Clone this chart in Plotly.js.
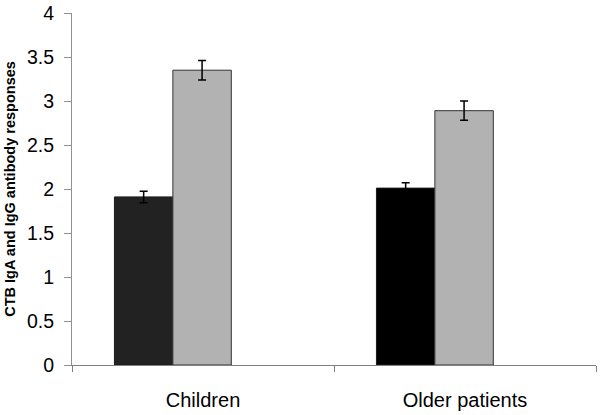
<!DOCTYPE html>
<html>
<head>
<meta charset="utf-8">
<script src="https://cdn.plot.ly/plotly-3.0.1.min.js"></script>
<style>html,body{margin:0;padding:0;background:#fff;}#chart{width:600px;height:415px;}</style>
</head>
<body>
<div id="chart"></div>
<script>
const categories = ["Children", "Older patients"];
const seriesA = [1.91, 2.01];      // first (dark) bars
const seriesAErr = [0.065, 0.06];
const seriesB = [3.35, 2.89];      // second (gray) bars
const seriesBErr = [0.11, 0.11];
const yTicks = [0, 0.5, 1, 1.5, 2, 2.5, 3, 3.5, 4];

const traceA = {
  type: 'bar', x: categories, y: seriesA,
  width: 0.223, offset: -0.338,
  marker: {color: ['#222222', '#000000'], line: {color: '#1a1a1a', width: 1}},
  error_y: {type: 'data', array: seriesAErr, visible: true, color: '#000', thickness: 1.5, width: 4},
  showlegend: false, hoverinfo: 'none'
};
const traceB = {
  type: 'bar', x: categories, y: seriesB,
  width: 0.223, offset: -0.115,
  marker: {color: '#b2b2b2', line: {color: '#333333', width: 1}},
  error_y: {type: 'data', array: seriesBErr, visible: true, color: '#000', thickness: 1.5, width: 4},
  showlegend: false, hoverinfo: 'none'
};

const layout = {
  width: 600, height: 415,
  margin: {l: 72, r: 4, t: 13, b: 50},
  paper_bgcolor: '#fff', plot_bgcolor: '#fff',
  barmode: 'overlay',
  font: {family: 'Liberation Sans, Arial, sans-serif', color: '#000'},
  xaxis: {
    type: 'category', range: [-0.5, 1.5],
    showline: true, linecolor: '#808080', linewidth: 1,
    ticks: 'outside', tickson: 'boundaries', ticklen: 6, tickcolor: '#808080',
    showgrid: false, zeroline: false,
    tickfont: {size: 20, family: 'Liberation Sans, Arial, sans-serif'},
    ticklabelstandoff: 17
  },
  yaxis: {
    range: [0, 4], tickvals: yTicks, ticktext: yTicks.map(String),
    showline: true, linecolor: '#909090', linewidth: 1,
    ticks: 'outside', ticklen: 7, tickcolor: '#909090',
    showgrid: false, zeroline: false,
    tickfont: {size: 19.5, family: 'Liberation Sans, Arial, sans-serif'},
    ticklabelstandoff: 6,
    title: {text: '<b>CTB IgA and IgG antibody responses</b>', font: {size: 14.5, family: 'Liberation Sans, Arial, sans-serif'}, standoff: 7}
  }
};

Plotly.newPlot('chart', [traceA, traceB], layout, {displayModeBar: false, staticPlot: true});
</script>
</body>
</html>
